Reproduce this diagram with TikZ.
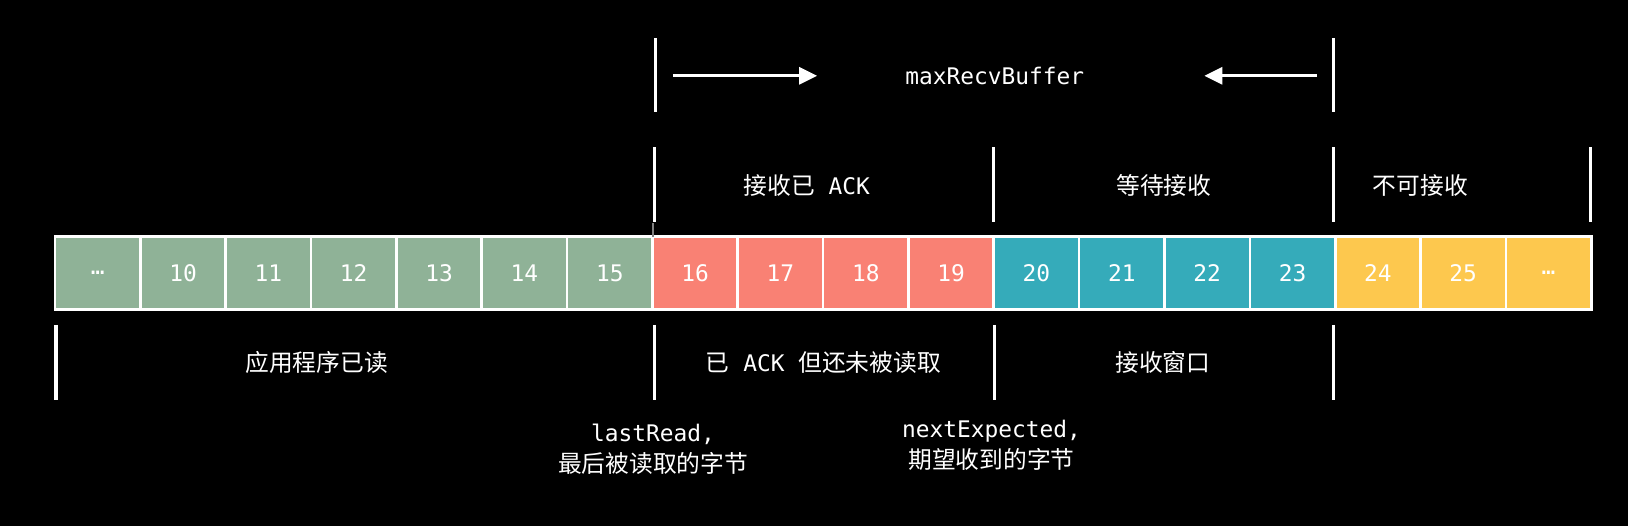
\documentclass[tikz,border=0pt]{standalone}
\usepackage{fontspec}
\setmainfont{DejaVu Sans Mono}
\newfontfamily\cjk[Scale=1.04]{Noto Sans CJK SC}
\usetikzlibrary{positioning,arrows.meta}
\definecolor{readgreen}{HTML}{8FB297}
\definecolor{ackred}{HTML}{F98174}
\definecolor{waitteal}{HTML}{35ABBA}
\definecolor{noyellow}{HTML}{FDC84E}
\tikzset{
    cell/.style={draw=white,line width=1.5pt,minimum width=1.707cm,
        minimum height=1.454cm,inner sep=0pt,outer sep=0pt,text=white,
        font=\fontsize{13}{15}\selectfont},
    bar/.style={white,line width=1.8pt},
    lbl/.style={text=white,inner sep=0pt,font=\fontsize{13}{17.6}\selectfont},
    sizearrow/.style={white,line width=1.8pt,-{Triangle[length=0.36cm,width=0.34cm]}}
}
\begin{document}
\begin{tikzpicture}[x=0.020766cm,y=-0.020766cm]
                \fill[black] (0,0) rectangle (1568,506.6);
                \useasboundingbox (0,0) rectangle (1568,506.6);
                % bytes
                \node[cell,fill=readgreen] (c09) at (94.1,263) {…};
                \node[cell,fill=readgreen,right=0pt of c09] (c10) {10};
                \node[cell,fill=readgreen,right=0pt of c10] (c11) {11};
                \node[cell,fill=readgreen,right=0pt of c11] (c12) {12};
                \node[cell,fill=readgreen,right=0pt of c12] (c13) {13};
                \node[cell,fill=readgreen,right=0pt of c13] (c14) {14};
                \node[cell,fill=readgreen,right=0pt of c14] (c15) {15};
                \node[cell,fill=ackred,right=0pt of c15] (c16) {16};
                \node[cell,fill=ackred,right=0pt of c16] (c17) {17};
                \node[cell,fill=ackred,right=0pt of c17] (c18) {18};
                \node[cell,fill=ackred,right=0pt of c18] (c19) {19};
                \node[cell,fill=waitteal,right=0pt of c19] (c20) {20};
                \node[cell,fill=waitteal,right=0pt of c20] (c21) {21};
                \node[cell,fill=waitteal,right=0pt of c21] (c22) {22};
                \node[cell,fill=waitteal,right=0pt of c22] (c23) {23};
                \node[cell,fill=noyellow,right=0pt of c23] (c24) {24};
                \node[cell,fill=noyellow,right=0pt of c24] (c25) {25};
                \node[cell,fill=noyellow,right=0pt of c25] (c26) {…};
                % maxRecvBuffer
                \draw[bar] (631,37) -- (631,108);
                \draw[bar] (1284,37) -- (1284,108);
                \node[lbl] (maxbuf) at (958,73) {maxRecvBuffer};
                \coordinate (bufLa) at (648,73);
                \coordinate (bufLb) at (787,73);
                \coordinate (bufRa) at (1268,73);
                \coordinate (bufRb) at (1160,73);
                \draw[sizearrow] (bufLa) -- (bufLb);
                \draw[sizearrow] (bufRa) -- (bufRb);
                % receiver side
                \draw[bar] (630,142) -- (630,214);
                \draw[bar] (957,142) -- (957,214);
                \draw[bar] (1284,142) -- (1284,214);
                \draw[bar] (1532,142) -- (1532,214);
                \draw[gray,line width=1pt] (629,215) -- (629,228);
                \node[lbl] (acked) at (777,179) {{\cjk 接收已} ACK};
                \node[lbl] (waiting) at (1121,179) {\cjk 等待接收};
                \node[lbl] (refused) at (1368,179) {\cjk 不可接收};
                % application side
                \draw[bar] (54,313) -- (54,385);
                \draw[bar] (630,313) -- (630,385);
                \draw[bar] (958,313) -- (958,385);
                \draw[bar] (1284,313) -- (1284,385);
                \node[lbl] (appread) at (305,349) {\cjk 应用程序已读};
                \node[lbl] (unread) at (793,349) {{\cjk 已} ACK {\cjk 但还未被读取}};
                \node[lbl] (window) at (1120,349) {\cjk 接收窗口};
                \node[lbl,align=center] (lastread) at (629,433)
                    {lastRead,\\{\cjk 最后被读取的字节}};
                \node[lbl,align=center] (nextexp) at (955,429)
                    {nextExpected,\\{\cjk 期望收到的字节}};
\end{tikzpicture}
\end{document}
